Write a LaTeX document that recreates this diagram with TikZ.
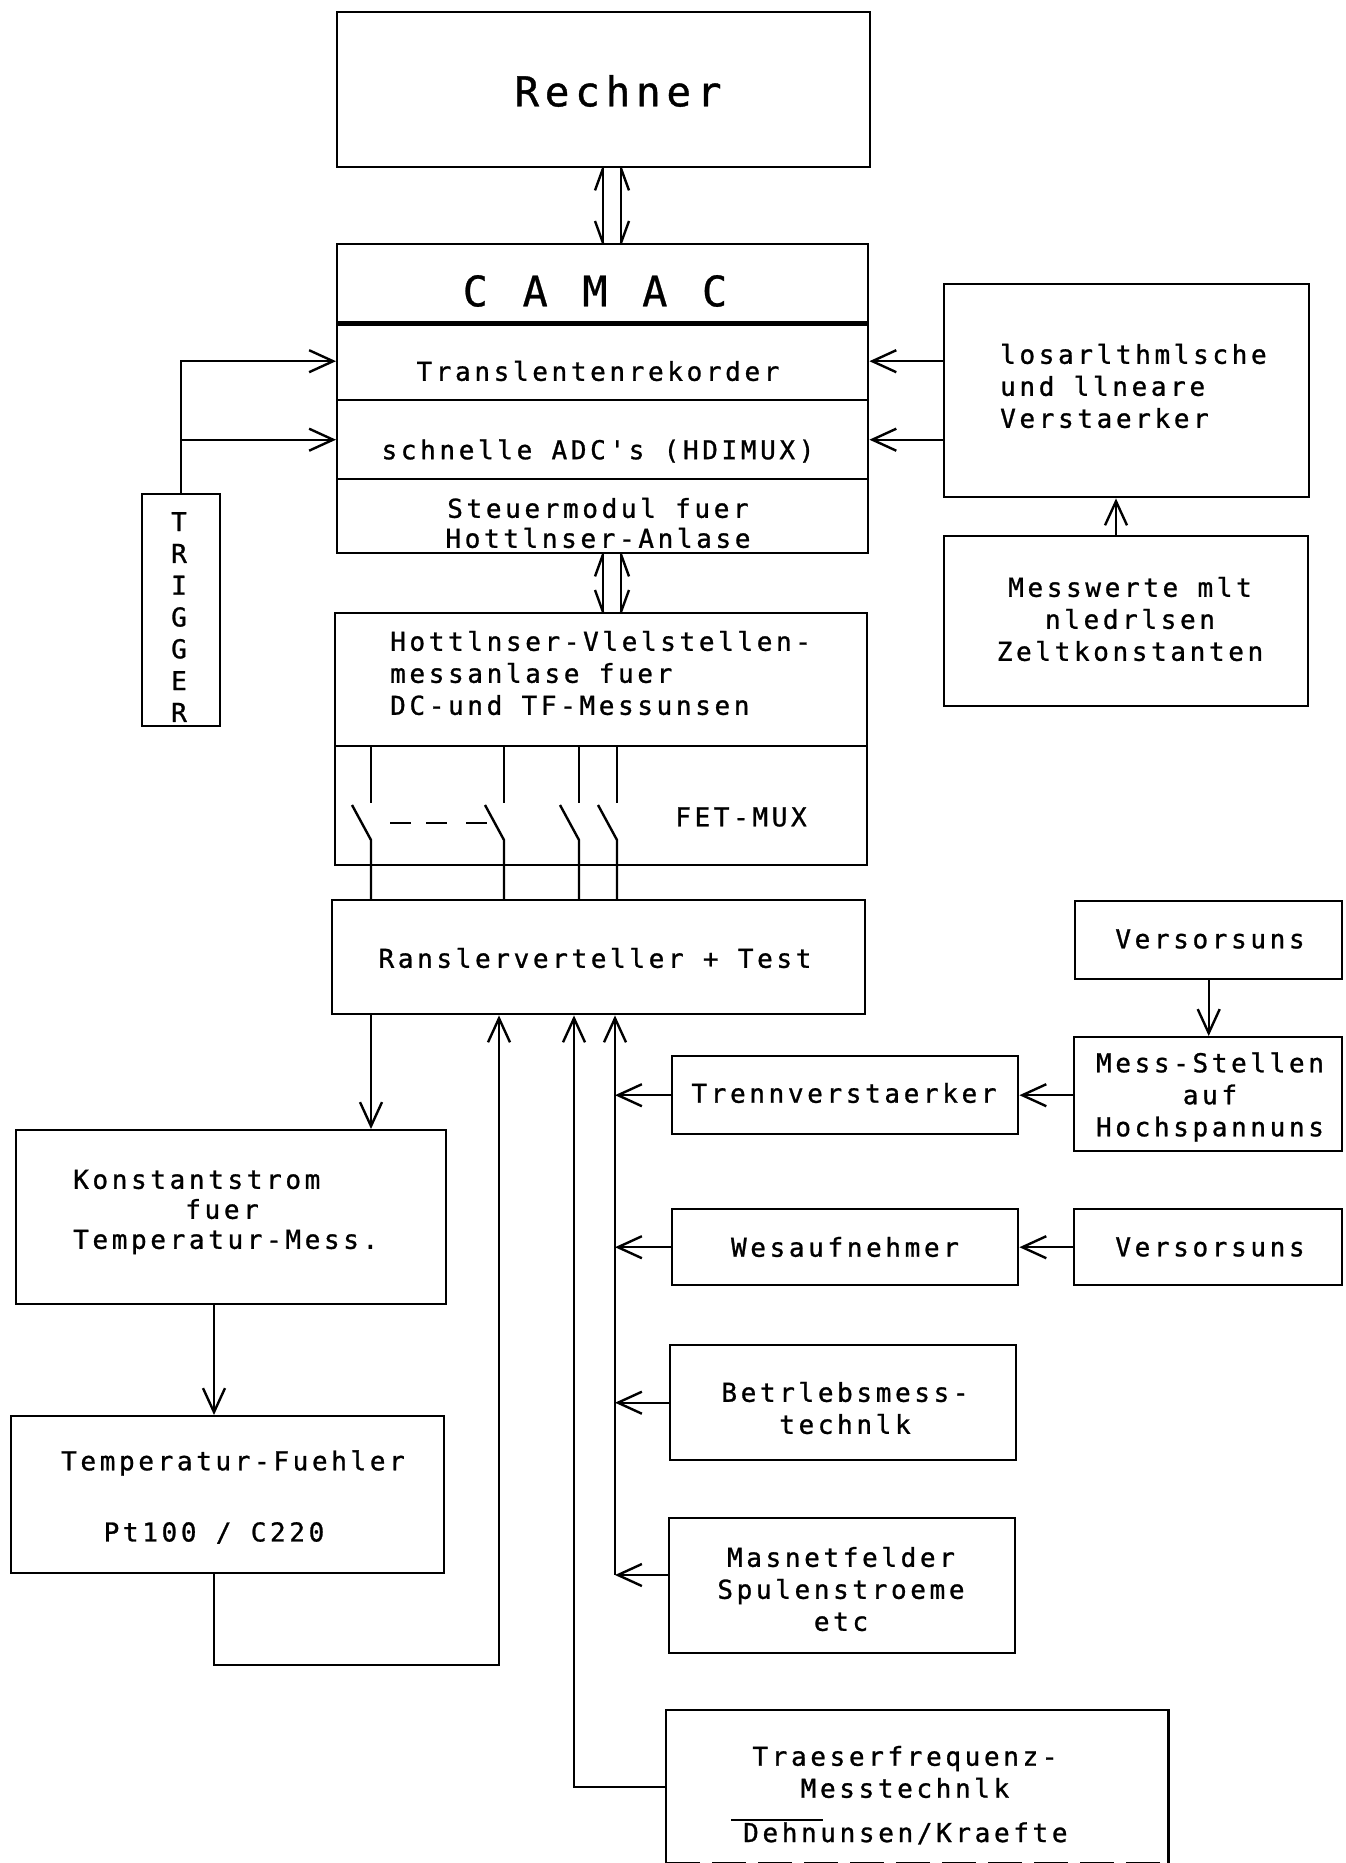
\documentclass[tikz,border=0pt]{standalone}
\usepackage{fontspec}
\newfontfamily\plotfont[LetterSpace=14,FakeBold=1]{DejaVu Sans Mono}
\newfontfamily\plotwide[LetterSpace=22,FakeBold=0.6]{DejaVu Sans Mono}
\usetikzlibrary{arrows.meta,calc}
\newcommand\plottxt{\fontsize{26}{32}\selectfont\plotfont}
\begin{document}
\begin{tikzpicture}[x=1pt,y=-1pt,
  ln/.style={line width=2.4pt},
  box/.style={draw, line width=2.4pt, inner sep=0pt, anchor=north west},
  arr/.style={line width=2.4pt, -{Straight Barb[length=24pt,width=22pt]}},
  lab/.style={font=\plottxt, inner sep=0pt, align=center},
  labl/.style={font=\plottxt, inner sep=0pt, align=left, anchor=west},
]
\fill[white] (0,0) rectangle (1345,1863);
\useasboundingbox (0,0) rectangle (1345,1863);

% boxes
\node[box, minimum width=533pt, minimum height=155pt] (rechner) at (336,11) {};
\node[box, minimum width=531pt, minimum height=78pt] (camacA) at (336,243) {};
\node[box, minimum width=531pt, minimum height=78pt] (trans) at (336,321) {};
\node[box, minimum width=531pt, minimum height=79pt] (adc) at (336,399) {};
\node[box, minimum width=531pt, minimum height=74pt] (steuer) at (336,478) {};
\node[box, minimum width=532pt, minimum height=133pt] (hottA) at (334,612) {};
\node[box, minimum width=532pt, minimum height=119pt] (mux) at (334,745) {};
\node[box, minimum width=533pt, minimum height=114pt] (rang) at (331,899) {};
\node[box, minimum width=78pt, minimum height=232pt] (trig) at (141,493) {};
\node[box, minimum width=365pt, minimum height=213pt] (log) at (943,283) {};
\node[box, minimum width=364pt, minimum height=170pt] (mess) at (943,535) {};
\node[box, minimum width=267pt, minimum height=78pt] (vers1) at (1074,900) {};
\node[box, minimum width=268pt, minimum height=114pt] (mst) at (1073,1036) {};
\node[box, minimum width=346pt, minimum height=78pt] (trenn) at (671,1055) {};
\node[box, minimum width=268pt, minimum height=76pt] (vers2) at (1073,1208) {};
\node[box, minimum width=346pt, minimum height=76pt] (weg) at (671,1208) {};
\node[box, minimum width=346pt, minimum height=115pt] (betr) at (669,1344) {};
\node[box, minimum width=346pt, minimum height=135pt] (magnet) at (668,1517) {};
\node[box, draw=none, minimum width=500pt, minimum height=151pt] (traeg) at (666,1710) {};
\node[box, minimum width=430pt, minimum height=174pt] (konst) at (15,1129) {};
\node[box, minimum width=433pt, minimum height=157pt] (temp) at (10,1415) {};

\draw[line width=4.5pt] (camacA.south west) -- (camacA.south east);
\draw[ln] (traeg.south west) -- (traeg.north west) -- (traeg.north east) -- (traeg.south east);
\draw[ln, dash pattern=on 34pt off 12pt] (traeg.south west) -- (traeg.south east);

% texts
\node[lab, font=\fontsize{41}{41}\selectfont\plotfont] (rechner-t) at (618,91) {Rechner};
\node[lab, font=\fontsize{42}{42}\selectfont\plotwide] (camac-t) at (595,291) {C A M A C};
\node[lab] (trans-t) at (598,371) {Translentenrekorder};
\node[lab] (adc-t) at (598,451) {schnelle ADC's (HDIMUX)};
\node[lab, font=\fontsize{26}{30}\selectfont\plotfont] (steuer-t) at (598,523) {Steuermodul fuer\\Hottlnser-Anlase};
\node[labl] (hott-t) at (390,673) {Hottlnser-Vlelstellen-\\messanlase fuer\\DC-und TF-Messunsen};
\node[lab] (mux-t) at (741,817) {FET-MUX};
\node[lab] (rang-t) at (595,958) {Ranslerverteller + Test};
\node[lab, font=\fontsize{26}{31.8}\selectfont\plotfont] (trig-t) at (179,617) {T\\R\\I\\G\\G\\E\\R};
\node[labl] (log-t) at (1000,386) {losarlthmlsche\\und llneare\\Verstaerker};
\node[lab] (mess-t) at (1130,619) {Messwerte mlt\\nledrlsen\\Zeltkonstanten};
\node[lab] (vers1-t) at (1210,939) {Versorsuns};
\node[lab] (mst-t) at (1210,1097) {Mess-Stellen\\auf\\Hochspannuns};
\node[lab] (trenn-t) at (844,1093) {Trennverstaerker};
\node[lab] (vers2-t) at (1210,1247) {Versorsuns};
\node[lab] (weg-t) at (845,1247) {Wesaufnehmer};
\node[lab] (betr-t) at (845,1408) {Betrlebsmess-\\technlk};
\node[lab] (magnet-t) at (841,1589) {Masnetfelder\\Spulenstroeme\\etc};
\node[lab] (traeg-t) at (905,1772) {Traeserfrequenz-\\Messtechnlk};
\node[lab, anchor=base west] (dehn-t) at (743,1842) {Dehnunsen/Kraefte};
\node[labl, font=\fontsize{26}{30}\selectfont\plotfont] (konst-t) at (73,1212) {Konstantstrom\\\hphantom{Konsta}fuer\\Temperatur-Mess.};
\node[lab] (temp-t) at (233,1463) {Temperatur-Fuehler};
\node[lab] (pt-t) at (214,1533) {Pt100 / C220};
\draw[ln] ($(dehn-t.base west)+(-12,-22)$) -- ++(92,0);

% double bus arrows
\coordinate (bl) at (603,0);
\coordinate (br) at (621,0);
\draw[ln] (bl |- rechner.south) -- (bl |- camacA.north);
\draw[ln] (br |- rechner.south) -- (br |- camacA.north);
\draw[ln] (bl |- rechner.south) -- ++(-8,22);
\draw[ln] (bl |- camacA.north) -- ++(-8,-22);
\draw[ln] (br |- rechner.south) -- ++(8,22);
\draw[ln] (br |- camacA.north) -- ++(8,-22);
\draw[ln] (bl |- steuer.south) -- (bl |- hottA.north);
\draw[ln] (br |- steuer.south) -- (br |- hottA.north);
\draw[ln] (bl |- steuer.south) -- ++(-8,22);
\draw[ln] (bl |- hottA.north) -- ++(-8,-22);
\draw[ln] (br |- steuer.south) -- ++(8,22);
\draw[ln] (br |- hottA.north) -- ++(8,-22);

% FET-MUX switches
\foreach \sx in {371,504,579,617} {
  \coordinate (s) at (\sx,0);
  \draw[ln] (s |- mux.north) -- (\sx,803);
  \draw[ln] (\sx-19,805) -- (\sx,840) -- (s |- rang.north);
}
\draw[ln] (390,823) -- (411,823);
\draw[ln] (426,823) -- (447,823);
\draw[ln] (466,823) -- (487,823);

% trigger
\draw[arr] (trig.north) |- (trans.west);
\draw[arr] (trig.north |- adc.west) -- (adc.west);

% right upper
\draw[arr] (log.west |- trans.west) -- (trans.east);
\draw[arr] (log.west |- adc.west) -- (adc.east);
\coordinate (mx) at (1116,0);
\draw[arr] (mx |- mess.north) -- (mx |- log.south);

% lower left
\coordinate (kx1) at (371,0);
\draw[arr] (kx1 |- rang.south) -- (kx1 |- konst.north);
\coordinate (kx2) at (214,0);
\draw[arr] (kx2 |- konst.south) -- (kx2 |- temp.north);
\coordinate (lp) at (499,1665);
\draw[arr] (kx2 |- temp.south) |- (lp) -- (lp |- rang.south);

% traeger
\coordinate (tx) at (574,0);
\draw[arr] (traeg.west) -| (tx |- rang.south);

% bus
\coordinate (bus) at (615,1575);
\draw[arr] (bus) -- (bus |- rang.south);
\draw[arr] (trenn.west) -- (bus |- trenn.west);
\draw[arr] (weg.west) -- (bus |- weg.west);
\draw[arr] (betr.west) -- (bus |- betr.west);
\draw[arr] (magnet.west |- bus) -- (bus);

% right middle
\draw[arr] (mst.west |- trenn.east) -- (trenn.east);
\draw[arr] (vers1.south) -- (vers1.south |- mst.north);
\draw[arr] (vers2.west |- weg.east) -- (weg.east);
\end{tikzpicture}
\end{document}
